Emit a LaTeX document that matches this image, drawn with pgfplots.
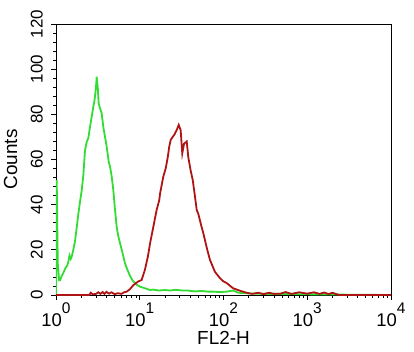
\documentclass[border=0pt]{standalone}
\usepackage{pgfplots}
\pgfplotsset{compat=1.18}
\usepackage{fontspec}
\setmainfont{Liberation Sans}
\definecolor{cgreen}{RGB}{50,220,50}
\definecolor{cred}{RGB}{175,20,20}
\newcommand\tl[1]{10\raisebox{0.70em}{\fontsize{15.5}{16}\selectfont #1}}
\begin{document}
\begin{tikzpicture}[x=1bp,y=1bp]
\path[use as bounding box] (-56,-57) rectangle (358,295);
\begin{axis}[
  at={(0,0)}, anchor=south west,
  scale only axis, width=335bp, height=271bp,
  xmode=log, xmin=1, xmax=10000, ymin=0, ymax=120,
  xtick={1,10,100,1000,10000},
  xticklabels={\tl{0},\tl{1},\tl{2},\tl{3},\tl{4}},
  ytick={0,20,...,120},
  minor y tick num=4,
  /pgf/number format/assume math mode=true,
  tick align=outside,
  major tick length=5bp, minor tick length=3bp,
  xtick pos=bottom, ytick pos=left,
  axis line style={black, line width=0.8bp},
  every tick/.style={black, line width=0.7bp},
  xticklabel style={font=\fontsize{18.5}{20}\selectfont, anchor=north, inner sep=0pt, yshift=-3bp},
  yticklabel style={font=\fontsize{17}{18}\selectfont, rotate=90, anchor=south, inner sep=0pt, yshift=8bp},
  xlabel={FL2-H},
  ylabel={Counts},
  xlabel style={font=\fontsize{19}{20}\selectfont, at={(axis description cs:0.5,-0.1845)}, anchor=base},
  ylabel style={font=\fontsize{19}{20}\selectfont, at={(axis description cs:-0.1164,0.5)}, anchor=base, rotate=0},
]
\addplot[cgreen, line width=1.8bp] coordinates {
(1.00,0) (1.02,51) (1.05,14) (1.09,6.5) (1.12,6.6) (1.17,8.5) (1.22,9.7)
(1.30,12) (1.36,13) (1.40,14.5) (1.45,17.5) (1.50,16) (1.54,17) (1.61,20)
(1.69,24) (1.77,30) (1.85,36) (1.94,41.5) (2.03,46.5) (2.12,53) (2.22,64)
(2.33,67.9) (2.43,69.4) (2.55,74.5) (2.67,79) (2.79,83.4) (2.87,85.6)
(2.98,90.8) (3.03,94) (3.06,96.7) (3.10,94) (3.15,92.3) (3.23,84.9)
(3.35,82.7) (3.51,80.5) (3.67,74.5) (3.85,70) (4.03,65.7) (4.26,59)
(4.42,56.8) (4.63,52.4) (4.83,46.5) (5.06,38) (5.31,30) (5.55,26)
(5.81,23) (6.2,19) (6.67,14) (7.15,11) (7.65,8.5) (8.2,6.5) (8.78,5.3)
(9.4,4.3) (10.07,3.7) (11.5,3.0) (13.3,2.2) (14.4,2.4) (17,2.0) (20,2.2)
(23,2.0) (27,2.3) (32,2.0) (37,2.0) (45,1.6) (55,1.8) (65,1.5) (75,1.5)
(90,1.3) (110,1.5) (130,2.0) (150,1.0) (200,0.7) (300,0.5) (500,0.5)
(1000,0.3) (2000,0.2) (10000,0)
};
\addplot[cred, line width=1.8bp] coordinates {
(1.0,0) (2.5,0) (2.6,1.0) (2.75,0.3) (3.0,0.5) (3.2,1.2) (3.4,0.5)
(3.6,1.3) (3.8,0.5) (4.0,1.4) (4.3,0.6) (4.6,1.2) (5.0,0.4) (5.5,0.8)
(6.0,0.5) (6.5,1.2) (7.0,1.5) (7.6,2.5) (8.4,4.4) (9.6,6) (10.5,6.6)
(11.5,11) (12.5,17) (13.3,23) (14.5,30) (15.9,37.6) (17.1,42) (17.5,45)
(19.1,52.4) (20.4,56) (21.6,61) (22.5,65.7) (23.4,68.6) (24.7,70)
(25.9,71) (27.6,73) (29.2,75.3) (30.8,73) (32.2,62.7) (33.8,67) (36.4,68)
(38.0,61) (40.6,55) (42.9,51) (45.7,43.5) (47.9,37.6) (50.0,36) (54,31)
(57.4,27.4) (64,20) (69,15.5) (79,10.3) (91,7.4) (100,6.0) (109,5.3)
(130,3.0) (157,1.9) (189,1.0) (220,0.5) (260,1.0) (300,0.4) (350,1.0)
(400,0.5) (480,0.6) (550,1.3) (650,0.5) (800,1.2) (1000,0.6) (1200,1.2)
(1400,0.5) (1600,1.1) (1800,0.4) (2000,1.0) (2260,0.3) (2400,0) (10000,0)
};
\end{axis}
\end{tikzpicture}
\end{document}
